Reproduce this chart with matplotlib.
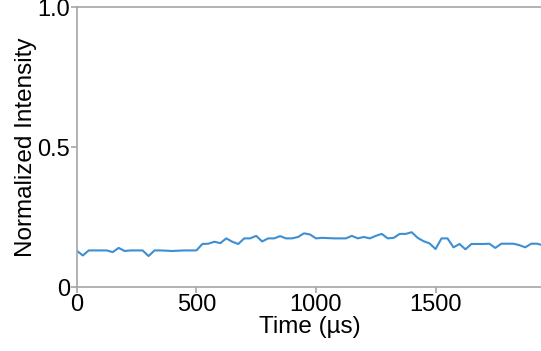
import matplotlib
matplotlib.use('Agg')
import matplotlib.pyplot as plt

time_us = [0, 25, 50, 75, 100, 125, 150, 175, 200, 225, 250, 275, 300, 325, 350, 375,
           400, 425, 450, 475, 500, 525, 550, 575, 600, 625, 650, 675, 700, 725, 750, 775,
           800, 825, 850, 875, 900, 925, 950, 975, 1000, 1025, 1050, 1075, 1100, 1125,
           1150, 1175, 1200, 1225, 1250, 1275, 1300, 1325, 1350, 1375, 1400, 1425, 1450,
           1475, 1500, 1525, 1550, 1575, 1600, 1625, 1650, 1675, 1700, 1725, 1750, 1775,
           1800, 1825, 1850, 1875, 1900, 1925, 1950]
intensity = [0.130, 0.113, 0.131, 0.131, 0.131, 0.131, 0.125, 0.140, 0.129, 0.131, 0.131,
             0.131, 0.111, 0.131, 0.131, 0.130, 0.129, 0.130, 0.131, 0.131, 0.131, 0.154,
             0.155, 0.162, 0.157, 0.174, 0.162, 0.154, 0.174, 0.174, 0.183, 0.163, 0.174,
             0.174, 0.182, 0.174, 0.174, 0.179, 0.192, 0.188, 0.174, 0.176, 0.175, 0.174,
             0.174, 0.174, 0.183, 0.174, 0.179, 0.174, 0.183, 0.190, 0.174, 0.176, 0.190,
             0.190, 0.196, 0.176, 0.164, 0.156, 0.136, 0.174, 0.174, 0.142, 0.154, 0.135,
             0.154, 0.154, 0.154, 0.155, 0.140, 0.155, 0.155, 0.155, 0.150, 0.142, 0.155,
             0.155, 0.149]

x_ticks = [0, 500, 1000, 1500]
y_ticks = [0, 0.5, 1.0]
y_tick_labels = ['0', '0.5', '1.0']

plt.rcParams['font.family'] = ['Liberation Sans', 'DejaVu Sans']

fig = plt.figure(figsize=(5.41, 3.51), dpi=100)
ax = fig.add_axes([0.142, 0.182, 0.862, 0.798])

ax.plot(time_us, intensity, color='#3d8fd1', linewidth=1.5)

ax.set_xlim(0, 1950)
ax.set_ylim(0, 1.0)
ax.set_xticks(x_ticks)
ax.set_yticks(y_ticks)
ax.set_yticklabels(y_tick_labels)

for side in ['left', 'bottom', 'top', 'right']:
    ax.spines[side].set_color('#a6a6a6')
    ax.spines[side].set_linewidth(1.2)

ax.tick_params(colors='#a6a6a6', labelcolor='black', labelsize=17, length=4, width=1.2, pad=1)
ax.set_xlabel('Time (µs)', fontsize=17.5, labelpad=0)
ax.set_ylabel('Normalized Intensity', fontsize=17.5, labelpad=0)

fig.savefig('out.png', dpi=100)
